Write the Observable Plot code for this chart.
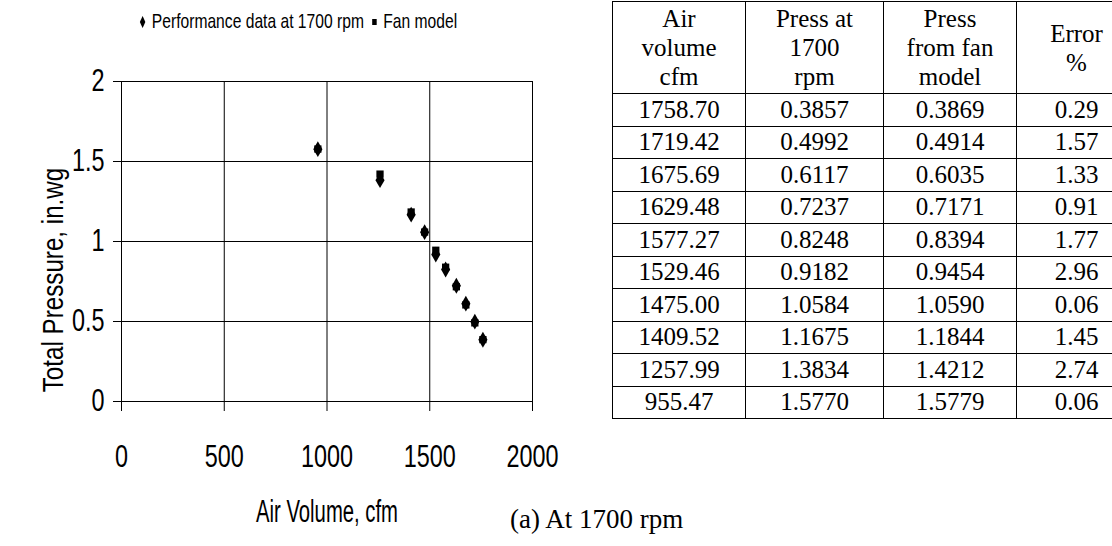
<!DOCTYPE html>
<html>
<head>
<meta charset="utf-8">
<script src="https://cdn.jsdelivr.net/npm/d3@7"></script>
<script src="https://cdn.jsdelivr.net/npm/@observablehq/plot@0.6"></script>
<style>
  html, body { margin: 0; padding: 0; background: #fff; }
  #wrap { position: relative; width: 1112px; height: 546px; overflow: hidden; background: #fff; }
  .sans { font-family: "Liberation Sans", Arial, sans-serif; color: #000; }
  #legend { position: absolute; left: 138px; top: 12px; font-size: 17px; white-space: nowrap; display: flex; align-items: center; transform-origin: left center; transform: scale(0.92, 1.2); }
  #legend svg { margin: 0 5px 0 0; }
  #ylabel { position: absolute; left: 53px; top: 280px; transform: translate(-50%, -50%) rotate(-90deg) scale(0.93, 1.15); font-size: 26px; white-space: nowrap; }
  #xlabel { position: absolute; left: 327px; top: 512px; transform: translate(-50%, -50%) scale(0.78, 1.2); font-size: 26px; white-space: nowrap; }
  #chart { position: absolute; left: 0; top: 0; }
  #tbl { position: absolute; left: 612px; top: 1px; width: 520px; border-collapse: collapse; font-family: "Liberation Serif", "Times New Roman", serif; font-size: 25px; color: #000; table-layout: fixed; }
  #tbl td, #tbl th { border: 1.5px solid #000; text-align: center; padding: 0; font-weight: normal; }
  #tbl th { height: 91px; line-height: 29px; vertical-align: middle; }
  #tbl td { height: 31.5px; line-height: 30px; }
  #caption { position: absolute; left: 510px; top: 504px; font-family: "Liberation Serif", "Times New Roman", serif; font-size: 27px; white-space: nowrap; }
</style>
</head>
<body>
<div id="wrap">
  <div id="legend" class="sans"></div>
  <div id="ylabel" class="sans">Total Pressure, in.wg</div>
  <div id="xlabel" class="sans">Air Volume, cfm</div>
  <div id="chart"></div>
  <table id="tbl"></table>
  <div id="caption">(a) At 1700 rpm</div>
</div>
<script>
// ---- data ----
const airVolume   = [1758.70, 1719.42, 1675.69, 1629.48, 1577.27, 1529.46, 1475.00, 1409.52, 1257.99, 955.47];
const pressData   = [0.3857, 0.4992, 0.6117, 0.7237, 0.8248, 0.9182, 1.0584, 1.1675, 1.3834, 1.5770];
const pressModel  = [0.3869, 0.4914, 0.6035, 0.7171, 0.8394, 0.9454, 1.0590, 1.1844, 1.4212, 1.5779];
const errorPct    = [0.29, 1.57, 1.33, 0.91, 1.77, 2.96, 0.06, 1.45, 2.74, 0.06];
const seriesNames = ["Performance data at 1700 rpm", "Fan model"];
const seriesSymbols = ["diamond", "square"];
const headers = [["Air", "volume", "cfm"], ["Press at", "1700", "rpm"], ["Press", "from fan", "model"], ["Error", "%"]];
const xTicks = [0, 500, 1000, 1500, 2000];
const yTicks = [0, 0.5, 1, 1.5, 2];

const rows = airVolume.map((v, i) => ({x: v, data: pressData[i], model: pressModel[i], err: errorPct[i]}));

// ---- legend ----
const legend = d3.select("#legend");
seriesNames.forEach((name, i) => {
  const s = legend.append("svg").attr("width", 10).attr("height", 10).attr("viewBox", "-5 -5 10 10");
  s.append("path").attr("d", d3.symbol(i === 0 ? d3.symbolDiamond : d3.symbolSquare, i === 0 ? 30 : 24)()).attr("fill", "#000");
  legend.append("span").style("margin-right", i === 0 ? "6px" : "0").text(name);
});

// ---- chart ----
const chart = Plot.plot({
  width: 580,
  height: 546,
  marginLeft: 121,
  marginRight: 48,
  marginTop: 81,
  marginBottom: 145,
  style: {fontFamily: '"Liberation Sans", Arial, sans-serif', fontSize: "26px", color: "#000", background: "transparent", overflow: "visible"},
  x: {domain: [0, 2000], ticks: xTicks, tickSize: 10, tickPadding: 33, label: null, tickFormat: d => String(d)},
  y: {domain: [0, 2], ticks: yTicks, tickSize: 8, tickPadding: 9, label: null, tickFormat: d => String(d)},
  marks: [
    Plot.gridX(xTicks, {stroke: "#000", strokeOpacity: 1, strokeWidth: 1}),
    Plot.gridY(yTicks, {stroke: "#000", strokeOpacity: 1, strokeWidth: 1}),
    Plot.frame({stroke: "#000", strokeWidth: 1}),
    Plot.dot(rows, {x: "x", y: "data", symbol: () => seriesSymbols[0], fill: "#000", r: 4.8}),
    Plot.dot(rows, {x: "x", y: "model", symbol: () => seriesSymbols[1], fill: "#000", r: 4.1})
  ]
});
// give the tick labels the tall, narrow look of the reference font
chart.querySelectorAll('g[aria-label$="tick label"] text').forEach(t => {
  const tr = t.getAttribute("transform");
  if (tr) {
    t.setAttribute("transform", tr + " scale(0.9,1.2)");
  } else {
    const x = parseFloat(t.getAttribute("x"));
    const y = parseFloat(t.getAttribute("y"));
    if (isFinite(x) && isFinite(y)) {
      t.removeAttribute("x"); t.removeAttribute("y");
      t.setAttribute("transform", `translate(${x},${y}) scale(0.9,1.2)`);
    }
  }
});
document.getElementById("chart").appendChild(chart);

// ---- table ----
const widths = [132, 137, 132, 119];
const tbl = d3.select("#tbl");
const hr = tbl.append("tr");
headers.forEach((h, i) => {
  hr.append("th").style("width", widths[i] + "px").html(h.join("<br>"));
});
rows.forEach(r => {
  const tr = tbl.append("tr");
  [r.x.toFixed(2), r.data.toFixed(4), r.model.toFixed(4), r.err.toFixed(2)].forEach(t => tr.append("td").text(t));
});
</script>
</body>
</html>
